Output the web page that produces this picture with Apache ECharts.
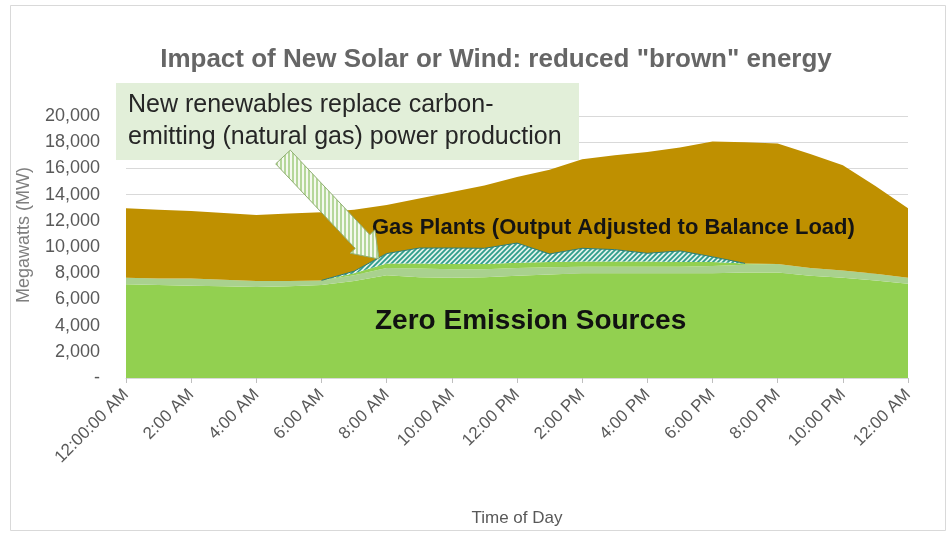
<!DOCTYPE html>
<html>
<head>
<meta charset="utf-8">
<script src="https://cdn.jsdelivr.net/npm/echarts@6/dist/echarts.min.js"></script>
<style>
html,body{margin:0;padding:0;background:#fff;}
#chart{width:948px;height:534px;}
</style>
</head>
<body>
<div id="chart"></div>
<script>
// ---- data (MW, hourly from 12:00 AM to 12:00 AM next day) ----
const hourLabels = ['12:00:00 AM','1:00 AM','2:00 AM','3:00 AM','4:00 AM','5:00 AM','6:00 AM','7:00 AM',
  '8:00 AM','9:00 AM','10:00 AM','11:00 AM','12:00 PM','1:00 PM','2:00 PM','3:00 PM','4:00 PM',
  '5:00 PM','6:00 PM','7:00 PM','8:00 PM','9:00 PM','10:00 PM','11:00 PM','12:00 AM'];
const zeroEmission   = [7150,7100,7050,7000,6950,7000,7100,7400,7850,7700,7650,7700,7800,7900,8000,8000,8000,8000,8000,8050,8050,7800,7650,7450,7200];
const otherClean     = [500,500,550,500,450,400,350,450,550,650,650,600,600,550,500,500,500,500,550,600,650,600,550,500,450];
const daytimeSolar   = [0,0,0,0,0,0,0,150,350,400,400,400,400,400,400,400,400,350,300,100,0,0,0,0,0];
const newRenewables  = ['-','-','-','-','-','-',0,150,750,1170,1220,1200,1500,620,1000,900,620,850,400,0,'-','-','-','-','-'];
const gasPlants      = [5300,5250,5150,5100,5050,5150,5200,4700,3700,3780,4280,4800,5050,6430,6800,7200,7730,7900,8800,9250,9200,8700,8050,6700,5300];
const yTicks = [0,2000,4000,6000,8000,10000,12000,14000,16000,18000,20000];

const FONT = "'Liberation Sans', Arial, sans-serif";

function makePattern(w, h, draw) {
  const c = document.createElement('canvas');
  c.width = w; c.height = h;
  draw(c.getContext('2d'), w, h);
  return c;
}
const hatch = makePattern(5, 5, function (g, w, h) {
  g.fillStyle = '#e3f2ec'; g.fillRect(0, 0, w, h);
  g.strokeStyle = '#2f9d8b'; g.lineWidth = 1.8;
  g.beginPath();
  g.moveTo(0, h); g.lineTo(w, 0);
  g.moveTo(-1, 1); g.lineTo(1, -1);
  g.moveTo(w - 1, h + 1); g.lineTo(w + 1, h - 1);
  g.stroke();
});
const vStripes = makePattern(4, 1, function (g, w, h) {
  g.fillStyle = '#f4f9ee'; g.fillRect(0, 0, w, h);
  g.fillStyle = '#b5d79a'; g.fillRect(0, 0, 2, h);
});

// arrow annotation geometry
function arrowPoints(sx, sy, tx, ty, half, headHalf, headLen) {
  const dx = tx - sx, dy = ty - sy, L = Math.hypot(dx, dy);
  const ux = dx / L, uy = dy / L, nx = uy, ny = -ux;
  const hx = tx - headLen * ux, hy = ty - headLen * uy;
  return [
    [sx + half * nx, sy + half * ny],
    [hx + half * nx, hy + half * ny],
    [hx + headHalf * nx, hy + headHalf * ny],
    [tx, ty],
    [hx - headHalf * nx, hy - headHalf * ny],
    [hx - half * nx, hy - half * ny],
    [sx - half * nx, sy - half * ny]
  ];
}

const chart = echarts.init(document.getElementById('chart'), null, {renderer: 'canvas'});

function areaSeries(name, data, color, extra) {
  return Object.assign({
    name: name,
    type: 'line',
    stack: 'mw',
    data: data,
    symbol: 'none',
    showSymbol: false,
    lineStyle: {width: 0, opacity: 0},
    areaStyle: {color: color, opacity: 1},
    emphasis: {disabled: true},
    silent: true
  }, extra || {});
}

chart.setOption({
  animation: false,
  backgroundColor: '#ffffff',
  grid: {left: 126, right: 40, top: 116, bottom: 156, containLabel: false},
  xAxis: {
    type: 'category',
    data: hourLabels,
    boundaryGap: false,
    name: 'Time of Day',
    nameLocation: 'middle',
    nameGap: 132,
    nameTextStyle: {color: '#595959', fontSize: 17, fontFamily: FONT},
    axisLine: {show: true, lineStyle: {color: '#d9d9d9'}},
    axisTick: {show: true, interval: 1, length: 5, lineStyle: {color: '#bfbfbf'}},
    axisLabel: {interval: 1, rotate: 45, margin: 14, color: '#595959', fontSize: 17, fontFamily: FONT},
    splitLine: {show: false}
  },
  yAxis: {
    type: 'value',
    min: yTicks[0],
    max: yTicks[yTicks.length - 1],
    interval: 2000,
    axisLine: {show: false},
    axisTick: {show: false},
    axisLabel: {
      margin: 26, color: '#595959', fontSize: 18, fontFamily: FONT,
      formatter: function (v) { return v === 0 ? '-' : v.toLocaleString('en-US'); }
    },
    splitLine: {lineStyle: {color: '#d9d9d9', width: 1.2}}
  },
  series: [
    areaSeries('Zero Emission Sources', zeroEmission, '#92d050'),
    areaSeries('Other clean supply', otherClean, '#a9d18e'),
    areaSeries('Daytime solar', daytimeSolar, '#92d050'),
    areaSeries('New renewables', newRenewables, {image: hatch, repeat: 'repeat'},
      {lineStyle: {width: 1, color: '#2a7d76', opacity: 1}, connectNulls: false}),
    areaSeries('Gas Plants', gasPlants, '#bf9000')
  ],
  graphic: [
    {type: 'rect', z: 0, silent: true,
      shape: {x: 10.5, y: 5.5, width: 935, height: 525},
      style: {fill: null, stroke: '#d9d9d9', lineWidth: 1}},
    {type: 'text', z: 100, silent: true, x: 496, y: 60,
      style: {text: 'Impact of New Solar or Wind: reduced "brown" energy', fill: '#666666',
        font: 'bold 26px ' + FONT, align: 'center', verticalAlign: 'middle'}},
    {type: 'text', z: 100, silent: true, x: 24, y: 235, rotation: Math.PI / 2,
      style: {text: 'Megawatts (MW)', fill: '#7f7f7f', font: '18px ' + FONT,
        align: 'center', verticalAlign: 'middle'}},
    {type: 'rect', z: 100, silent: true,
      shape: {x: 116, y: 83, width: 463, height: 77},
      style: {fill: '#e2efd9'}},
    {type: 'text', z: 101, silent: true, x: 128, y: 105,
      style: {text: 'New renewables replace carbon-', fill: '#262626', font: '25px ' + FONT,
        align: 'left', verticalAlign: 'middle'}},
    {type: 'text', z: 101, silent: true, x: 128, y: 137,
      style: {text: 'emitting (natural gas) power production', fill: '#262626', font: '25px ' + FONT,
        align: 'left', verticalAlign: 'middle'}},
    {type: 'text', z: 100, silent: true, x: 372, y: 228,
      style: {text: 'Gas Plants (Output Adjusted to Balance Load)', fill: '#141414',
        font: 'bold 22px ' + FONT, align: 'left', verticalAlign: 'middle'}},
    {type: 'text', z: 100, silent: true, x: 375, y: 321,
      style: {text: 'Zero Emission Sources', fill: '#111111',
        font: 'bold 28px ' + FONT, align: 'left', verticalAlign: 'middle'}},
    {type: 'polygon', z: 110, silent: true,
      shape: {points: arrowPoints(283, 157, 379, 259, 10, 17, 24)},
      style: {fill: {image: vStripes, repeat: 'repeat'}, stroke: '#8fae72', lineWidth: 1}}
  ]
});
</script>
</body>
</html>
